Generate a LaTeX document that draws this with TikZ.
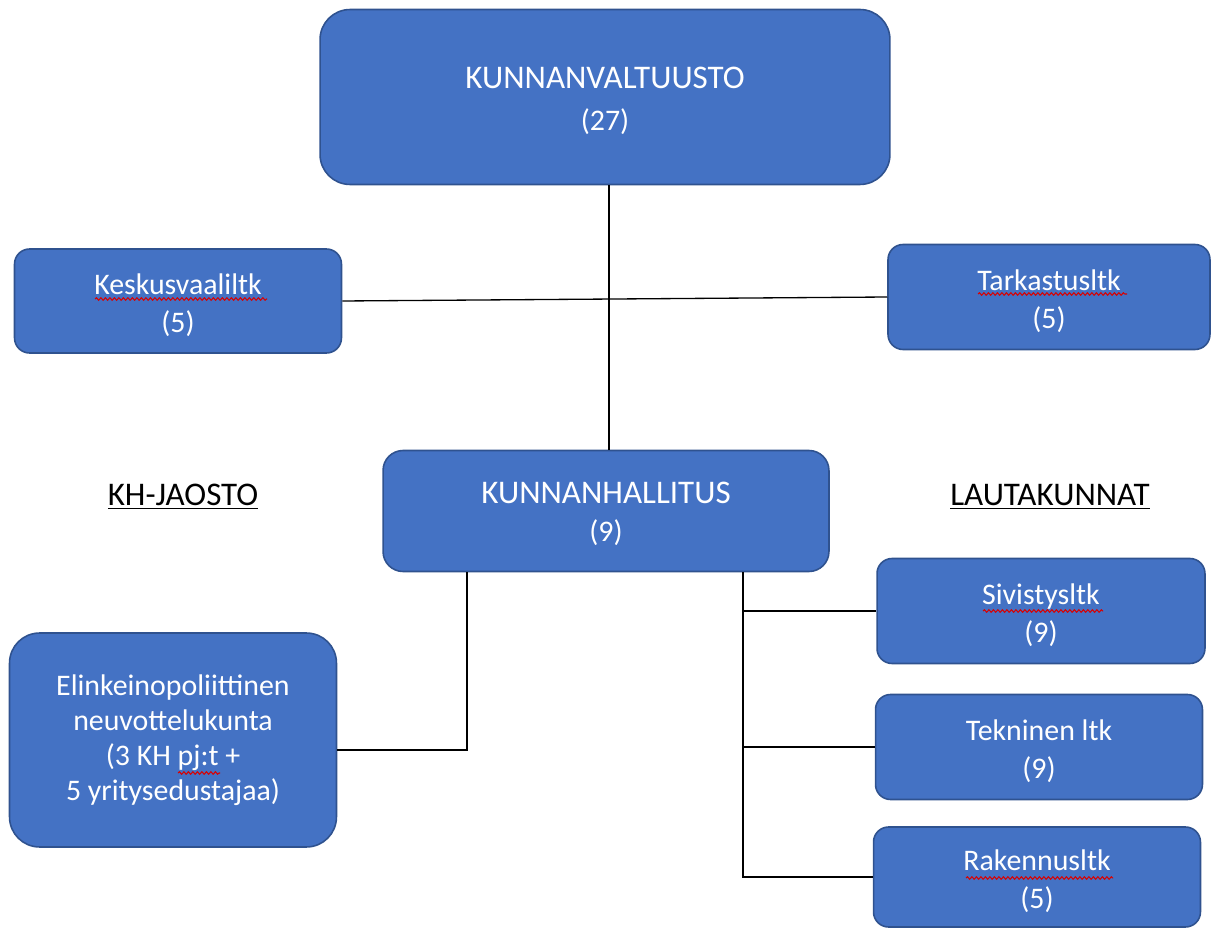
\documentclass[tikz,border=0pt]{standalone}
\usepackage{fontspec}
\setmainfont{Carlito}
\usepackage{tikz}
\usetikzlibrary{positioning, decorations.pathmorphing}
\definecolor{orgblue}{HTML}{4472C4}
\definecolor{orgedge}{HTML}{2F528F}
\tikzstyle{orgbox} = [rectangle, draw=orgedge, line width=0.9pt, fill=orgblue, text=white, text centered, align=center, rounded corners=0.3cm, font=\fontsize{17}{21.5}\selectfont]
\tikzstyle{heading} = [font=\fontsize{18.8}{20.5}\selectfont, text=black]
\tikzstyle{line} = [line width=0.75pt, -]
\tikzstyle{spell} = [red!85!black, line width=0.6pt, decorate, decoration={snake, segment length=0.09cm, amplitude=0.025cm}]
\newcommand{\capsize}{\fontsize{18.8}{20.5}\selectfont}
\newcommand{\dropline}[1]{\rule{0pt}{#1}}

\begin{document}
\begin{tikzpicture}[x=0.02cm, y=-0.02cm]
        \useasboundingbox (0,0) rectangle (1211,929);

        \node (kv) [orgbox, minimum width=11.4cm, minimum height=3.5cm, rounded corners=0.6cm, font=\fontsize{17}{23.5}\selectfont] at (605,97) {\dropline{16.7pt}{\capsize KUNNANVALTUUSTO}\\(27)};
        \node (kesk) [orgbox, minimum width=6.54cm, minimum height=2.08cm] at (178,301) {\dropline{16.5pt}Keskusvaaliltk\\(5)};
        \node (tark) [orgbox, minimum width=6.44cm, minimum height=2.1cm] at (1049,297) {\dropline{16.5pt}Tarkastusltk\\(5)};
        \node (kh) [orgbox, minimum width=8.92cm, minimum height=2.42cm, rounded corners=0.4cm] at (606,511) {\dropline{15.5pt}{\capsize KUNNANHALLITUS}\\(9)};

        % jaosto
        \node (jaosto) [heading] at (183,497) {\underline{KH-JAOSTO}};
        \node (elin) [orgbox, minimum width=6.54cm, minimum height=4.28cm, rounded corners=0.6cm, font=\fontsize{17}{20}\selectfont] at (173,740) {Elinkeinopoliittinen\\neuvottelukunta\\(3 KH pj:t +\\5 yritysedustajaa)};

        % lautakunnat
        \node (lauta) [heading] at (1050,497) {\underline{LAUTAKUNNAT}};
        \node (siv) [orgbox, minimum width=6.56cm, minimum height=2.1cm] at (1041,611) {\dropline{16.5pt}Sivistysltk\\(9)};
        \node (tek) [orgbox, minimum width=6.54cm, minimum height=2.1cm] at (1039,747) {\dropline{16.5pt}Tekninen ltk\\(9)};
        \node (rak) [orgbox, minimum width=6.54cm, minimum height=2.0cm] at (1037,877) {\dropline{16.5pt}Rakennusltk\\(5)};

        % spelling marks
        \draw [spell] ([shift={(-83,-2)}]kesk.center) -- ++(172,0);
        \draw [spell] ([shift={(-71,-3)}]tark.center) -- ++(149,0);
        \draw [spell] ([shift={(-58,0)}]siv.center) -- ++(120,0);
        \draw [spell] ([shift={(-71,1)}]rak.center) -- ++(147,0);
        \draw [spell] ([shift={(5,33)}]elin.center) -- ++(42,0);

        % connectors
        \draw [line] ([xshift=0.08cm]kv.south) -- ([xshift=0.06cm]kh.north);
        \draw [line] (kesk.east) -- (tark.west);
        \draw [line] ([xshift=-2.78cm]kh.south) |- ([yshift=-0.2cm]elin.east);

        \coordinate (lk) at ([xshift=2.74cm]kh.south);
        \draw [line] (lk) |- (rak.west);
        \draw [line] (lk |- siv.west) -- (siv.west);
        \draw [line] (lk |- tek.west) -- (tek.west);

    \end{tikzpicture}
\end{document}
